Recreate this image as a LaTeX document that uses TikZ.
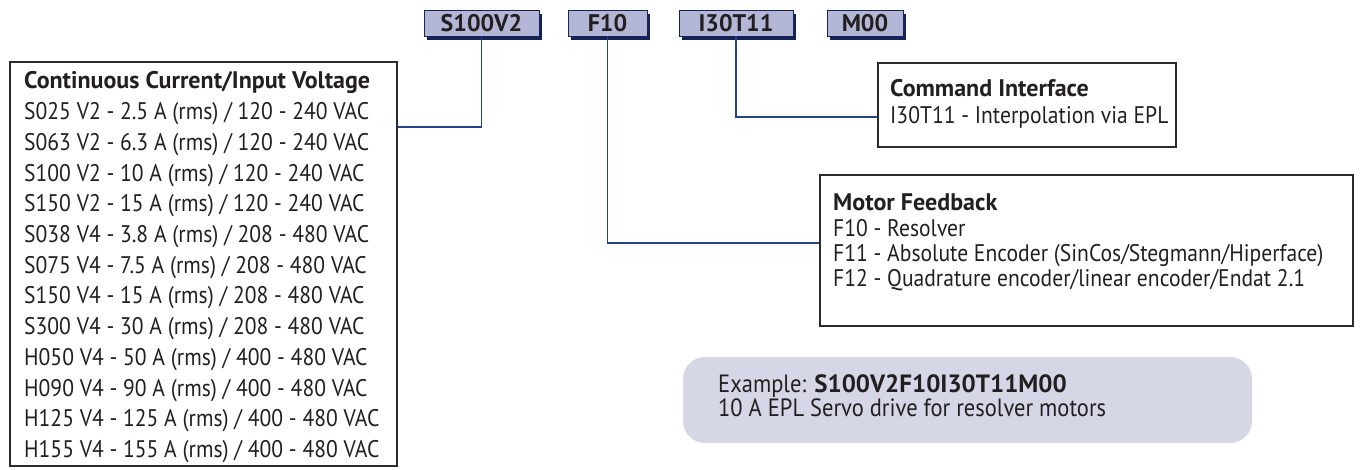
\documentclass[tikz,border=0pt]{standalone}
\usepackage{fontspec}
\setmainfont{PT Sans}[FakeStretch=0.9, BoldFeatures={FakeStretch=1.0}]
\usetikzlibrary{shadows}
\definecolor{txt}{HTML}{231F20}
\definecolor{codefill}{HTML}{B3B6D4}
\definecolor{navy}{HTML}{13245A}
\definecolor{wire}{HTML}{27428A}
\definecolor{boxline}{HTML}{2B2B2B}
\definecolor{exfill}{HTML}{D5D7E7}
\begin{document}
\begin{tikzpicture}[x=1pt,y=-1pt,
  codebox/.style={draw=navy, fill=codefill, line width=0.8pt, inner sep=0pt,
    minimum height=26pt, text=txt, font=\bfseries\fontsize{24}{24}\selectfont,
    drop shadow={shadow xshift=3pt, shadow yshift=-4pt, fill=navy, opacity=1}},
  infobox/.style={draw=boxline, line width=1.6pt, inner sep=0pt},
  line/.style={anchor=base west, inner sep=0pt, text=txt, font=\fontsize{24}{24}\selectfont},
  head/.style={line, font=\bfseries\fontsize{24}{24}\selectfont},
  exline/.style={line, font=\fontsize{25}{25}\selectfont},
  wirel/.style={draw=wire, line width=1.1pt}]
\path[use as bounding box] (0,0) rectangle (1361,470);

% code boxes
\node[codebox, minimum width=115pt] (s) at (481.5,23) {S100V2};
\node[codebox, minimum width=79pt] (f) at (607.5,23) {F10};
\node[codebox, minimum width=114pt] (i) at (736,23) {I30T11};
\node[codebox, minimum width=76pt] (m) at (865,23) {M00};

% left box
\node[infobox, minimum width=387pt, minimum height=404pt] (cc) at (203.5,264) {};
\node[head] (cc0) at (24,89) {Continuous Current/Input Voltage};
\foreach \t [count=\k] in {S025 V2 - 2.5 A (rms) / 120 - 240 VAC,
  S063 V2 - 6.3 A (rms) / 120 - 240 VAC,
  S100 V2 - 10 A (rms) / 120 - 240 VAC,
  S150 V2 - 15 A (rms) / 120 - 240 VAC,
  S038 V4 - 3.8 A (rms) / 208 - 480 VAC,
  S075 V4 - 7.5 A (rms) / 208 - 480 VAC,
  S150 V4 - 15 A (rms) / 208 - 480 VAC,
  S300 V4 - 30 A (rms) / 208 - 480 VAC,
  H050 V4 - 50 A (rms) / 400 - 480 VAC,
  H090 V4 - 90 A (rms) / 400 - 480 VAC,
  H125 V4 - 125 A (rms) / 400 - 480 VAC,
  H155 V4 - 155 A (rms) / 400 - 480 VAC}
  \node[line] (cc\k) at (24,{89+30.7*\k}) {\t};

% command interface
\node[infobox, minimum width=298pt, minimum height=84pt] (ci) at (1027,105) {};
\node[head] (ci0) at (890,97) {Command Interface};
\node[line] (ci1) at (890,124) {I30T11 - Interpolation via EPL};

% motor feedback
\node[infobox, minimum width=533pt, minimum height=151pt] (mf) at (1086.5,250.5) {};
\node[head] (mf0) at (833,211) {Motor Feedback};
\node[line] (mf1) at (833,237) {F10 - Resolver};
\node[line] (mf2) at (833,262) {F11 - Absolute Encoder (SinCos/Stegmann/Hiperface)};
\node[line] (mf3) at (833,287) {F12 - Quadrature encoder/linear encoder/Endat 2.1};

% example
\node[fill=exfill, rounded corners=22pt, minimum width=569pt, minimum height=86pt, inner sep=0pt] (ex) at (967.5,400) {};
\node[exline] (ex1) at (718,392) {Example: {\addfontfeature{FakeStretch=0.8}\textbf{S100V2F10I30T11M00}}};
\node[exline] (ex2) at (718,417) {10 A EPL Servo drive for resolver motors};

% connectors
\draw[wirel] (s.south) |- (cc.east |- 0,127);
\draw[wirel] (f.south) |- (mf.west |- 0,243);
\draw[wirel] (i.south) |- (ci.west |- 0,117);
\end{tikzpicture}
\end{document}
